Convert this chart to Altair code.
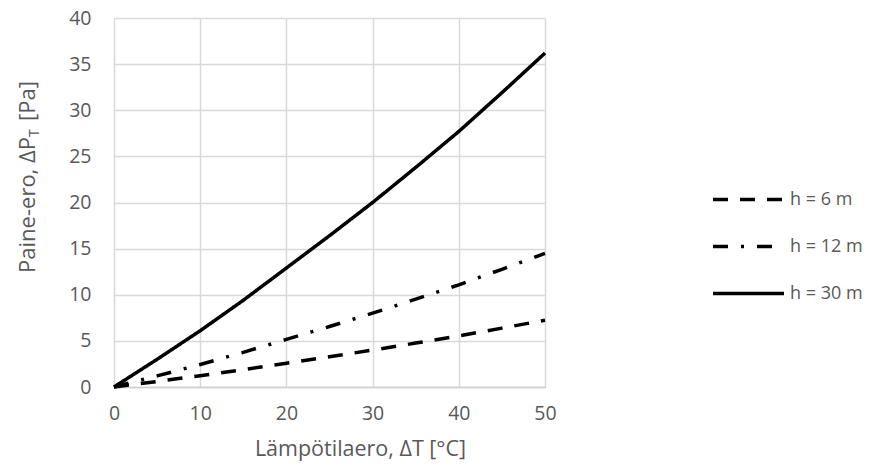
import altair as alt
import pandas as pd

dT = [0, 5, 10, 15, 20, 25, 30, 35, 40, 45, 50]
h6 = [0, 0.6, 1.22, 1.88, 2.58, 3.28, 4.0, 4.76, 5.54, 6.38, 7.24]
h12 = [0, 1.2, 2.44, 3.76, 5.16, 6.56, 8.0, 9.52, 11.08, 12.76, 14.48]
h30 = [0, 3.0, 6.1, 9.4, 12.9, 16.4, 20.0, 23.8, 27.7, 31.9, 36.2]
series = ["h = 6 m", "h = 12 m", "h = 30 m"]
x_ticks = [0, 10, 20, 30, 40, 50]
y_ticks = [0, 5, 10, 15, 20, 25, 30, 35, 40]
x_title = "Lämpötilaero, ΔT [°C]"
y_title_parts = ["Paine-ero, ΔP", "T", "[Pa]"]

rows = []
for name, vals in zip(series, [h6, h12, h30]):
    for x, y in zip(dT, vals):
        rows.append({"dT": x, "dP": y, "s": name})
df = pd.DataFrame(rows)

FONT = "Open Sans"
GRAY = "#595959"
common = dict(grid=True, gridColor="#d9d9d9", gridWidth=1.5, ticks=False, labelFlush=False,
              labelFont=FONT, labelFontSize=19.5, labelColor=GRAY,
              titleFont=FONT, titleFontSize=21.5, titleColor=GRAY, titleFontWeight="normal")

lines = alt.Chart(df).mark_line(strokeWidth=3.5, color="black", strokeCap="butt").encode(
    x=alt.X("dT:Q", scale=alt.Scale(domain=[0, 50], nice=False),
            axis=alt.Axis(values=x_ticks, title=x_title, titleX=246, titleY=62,
                          titleBaseline="middle", titleAlign="center",
                          labelPadding=17, domainColor="#d0d0d0", domainWidth=1.5, **common)),
    y=alt.Y("dP:Q", scale=alt.Scale(domain=[0, 40], nice=False),
            axis=alt.Axis(values=y_ticks, title=None, labelPadding=23, domain=False, **common)),
    strokeDash=alt.StrokeDash("s:N", sort=series,
                              scale=alt.Scale(domain=series,
                                              range=[[15, 12], [15, 13, 3, 13], [1, 0]]),
                              legend=alt.Legend(title=None, orient="none", legendX=597, legendY=144,
                                                symbolType="stroke", symbolSize=5041,
                                                symbolStrokeWidth=3.5, symbolStrokeColor="black",
                                                labelFontSize=18, labelColor=GRAY, labelFont=FONT,
                                                rowPadding=-25, labelOffset=4)),
    order=alt.Order("dT:Q"),
)

tdf = pd.DataFrame({"t": [0]})
yt1 = alt.Chart(tdf).mark_text(text=y_title_parts[0], angle=270, align="right", baseline="alphabetic",
                               font=FONT, fontSize=22, color=GRAY).encode(
    x=alt.value(-79), y=alt.value(119))
yt2 = alt.Chart(tdf).mark_text(text=y_title_parts[1], angle=270, align="left", baseline="alphabetic",
                               font=FONT, fontSize=14, color=GRAY).encode(
    x=alt.value(-75), y=alt.value(119))
yt3 = alt.Chart(tdf).mark_text(text=y_title_parts[2], angle=270, align="left", baseline="alphabetic",
                               font=FONT, fontSize=22, color=GRAY).encode(
    x=alt.value(-79), y=alt.value(103))

chart = alt.layer(lines, yt1, yt2, yt3).properties(
    width=431, height=369,
    padding={"left": 106, "top": 10, "right": 319, "bottom": 77},
    autosize=alt.AutoSizeParams(type="none"),
).configure_view(stroke=None)

chart.save("out.html", embed_options={"renderer": "svg", "actions": False})
